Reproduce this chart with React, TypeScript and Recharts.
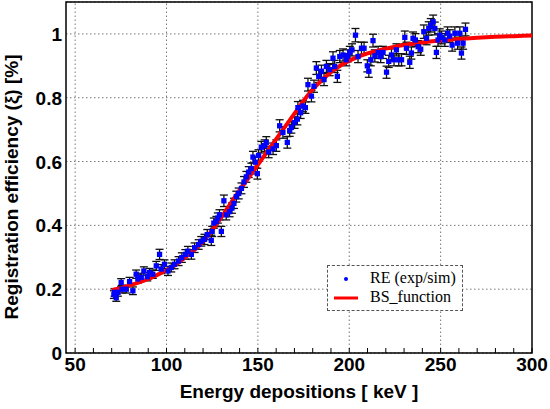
import React from "react";
import {
  ComposedChart,
  Scatter,
  Line,
  XAxis,
  YAxis,
  ZAxis,
  CartesianGrid,
  ReferenceLine,
  ReferenceArea,
  ErrorBar,
  Legend,
} from "recharts";

// measured registration efficiency (exp/sim) with errors
const reEnergy = [
  71.2, 71.6, 72.5, 73.4, 75.2, 75.6, 78.0, 79.8, 81.6, 83.4,
  84.3, 86.2, 87.6, 89.5, 90.7, 92.5, 94.4, 96.2, 97.1, 98.9,
  100.8, 102.6, 104.4, 106.6, 108.4, 110.3, 111.7, 113.6, 115.4, 117.6,
  119.0, 120.8, 122.3, 124.5, 125.0, 125.9, 127.3, 128.1, 129.0, 130.0,
  131.4, 132.7, 134.5, 135.8, 136.9, 138.2, 139.5, 141.0, 142.4, 143.7,
  145.0, 146.4, 147.3, 148.6, 149.7, 150.4, 151.9, 153.7, 154.6, 155.9,
  158.3, 160.1, 161.9, 163.7, 166.1, 167.4, 168.3, 170.1, 171.6, 171.9,
  173.4, 174.7, 176.0, 177.4, 179.3, 180.7, 182.0, 183.3, 184.8, 186.2,
  187.5, 189.3, 191.1, 192.0, 193.5, 194.8, 196.6, 198.4, 199.1, 200.3,
  201.5, 203.4, 204.8, 206.7, 208.1, 209.9, 210.7, 211.8, 213.0, 214.0,
  215.8, 217.2, 218.5, 220.4, 221.6, 223.1, 224.5, 225.8, 227.1, 228.6,
  230.4, 231.3, 233.1, 234.0, 234.9, 236.2, 237.7, 239.1, 240.8, 242.3,
  243.5, 244.6, 245.9, 246.8, 247.7, 248.6, 249.5, 250.5, 252.3, 253.8,
  255.0, 256.3, 257.8, 259.3, 260.5, 261.4, 262.3, 263.6,
];

const reValue = [
  0.183, 0.19, 0.173, 0.19, 0.221, 0.2, 0.2, 0.224, 0.195, 0.247,
  0.232, 0.237, 0.257, 0.239, 0.252, 0.247, 0.273, 0.309, 0.263, 0.278,
  0.257, 0.268, 0.278, 0.288, 0.299, 0.309, 0.319, 0.309, 0.33, 0.34,
  0.35, 0.356, 0.371, 0.353, 0.381, 0.407, 0.412, 0.423, 0.433, 0.381,
  0.477, 0.433, 0.443, 0.454, 0.469, 0.49, 0.5, 0.516, 0.536, 0.552,
  0.567, 0.578, 0.614, 0.598, 0.562, 0.619, 0.645, 0.65, 0.66, 0.63,
  0.64, 0.65, 0.712, 0.691, 0.66, 0.697, 0.707, 0.722, 0.733, 0.769,
  0.753, 0.774, 0.769, 0.841, 0.805, 0.836, 0.893, 0.867, 0.883, 0.857,
  0.898, 0.888, 0.924, 0.898, 0.867, 0.929, 0.934, 0.919, 0.931, 0.942,
  0.95, 0.996, 0.929, 0.955, 0.955, 0.9, 0.883, 0.919, 0.979, 0.931,
  0.942, 0.929, 0.942, 0.88, 0.914, 0.934, 0.919, 0.95, 0.919, 0.919,
  0.989, 0.955, 0.911, 0.94, 0.986, 0.981, 0.96, 0.952, 1.007, 0.986,
  1.017, 1.027, 1.038, 1.017, 0.942, 0.981, 0.996, 0.989, 0.981, 1.002,
  0.993, 0.965, 1.002, 0.971, 1.002, 0.94, 0.971, 1.014,
];

const reError = [
  0.012, 0.012, 0.011, 0.012, 0.012, 0.012, 0.012, 0.013, 0.012, 0.013,
  0.013, 0.013, 0.013, 0.013, 0.013, 0.013, 0.014, 0.016, 0.014, 0.014,
  0.014, 0.014, 0.014, 0.014, 0.015, 0.015, 0.015, 0.015, 0.015, 0.015,
  0.015, 0.016, 0.016, 0.016, 0.016, 0.016, 0.016, 0.016, 0.016, 0.016,
  0.018, 0.016, 0.016, 0.016, 0.016, 0.017, 0.017, 0.017, 0.017, 0.017,
  0.017, 0.017, 0.018, 0.017, 0.017, 0.018, 0.018, 0.018, 0.018, 0.018,
  0.018, 0.018, 0.019, 0.018, 0.018, 0.018, 0.018, 0.018, 0.018, 0.019,
  0.018, 0.018, 0.018, 0.02, 0.018, 0.019, 0.02, 0.019, 0.019, 0.019,
  0.019, 0.019, 0.02, 0.019, 0.019, 0.019, 0.019, 0.019, 0.019, 0.019,
  0.019, 0.021, 0.019, 0.019, 0.019, 0.019, 0.019, 0.019, 0.02, 0.019,
  0.019, 0.019, 0.019, 0.019, 0.019, 0.019, 0.019, 0.019, 0.019, 0.019,
  0.02, 0.019, 0.019, 0.019, 0.02, 0.02, 0.019, 0.019, 0.021, 0.02,
  0.021, 0.021, 0.021, 0.02, 0.019, 0.02, 0.02, 0.02, 0.02, 0.02,
  0.02, 0.019, 0.02, 0.019, 0.02, 0.019, 0.019, 0.02,
];

// fitted BS function
const bsEnergy = [
  70, 75, 80, 85, 90, 95, 100, 105, 110, 115, 120, 125, 130, 135, 140, 145,
  150, 155, 160, 165, 170, 175, 180, 185, 190, 195, 200, 205, 210, 215, 220,
  225, 230, 240, 250, 260, 270, 280, 290, 300,
];
const bsValue = [
  0.197, 0.204, 0.212, 0.221, 0.232, 0.245, 0.259, 0.277, 0.299, 0.322, 0.35,
  0.385, 0.425, 0.468, 0.51, 0.55, 0.59, 0.63, 0.67, 0.71, 0.75, 0.79, 0.826,
  0.855, 0.88, 0.9, 0.916, 0.929, 0.939, 0.947, 0.954, 0.96, 0.965, 0.973,
  0.979, 0.984, 0.988, 0.991, 0.993, 0.995,
];

const xMinorTicks = [
  50, 60, 70, 80, 90, 100, 110, 120, 130, 140, 150, 160, 170, 180, 190, 200,
  210, 220, 230, 240, 250, 260, 270, 280, 290, 300,
];
const xGridLines = [50, 100, 150, 200, 250];
const yTicks = [0, 0.2, 0.4, 0.6, 0.8, 1];

const reData = reEnergy.map((e, i) => ({ e, v: reValue[i], err: reError[i] }));
const bsData = bsEnergy.map((e, i) => ({ e, bs: bsValue[i] }));

const SANS = "'Liberation Sans', Arial, sans-serif";
const SERIF = "'Liberation Serif', 'Times New Roman', serif";
const GRID = { stroke: "#777", strokeDasharray: "1.5 2.5", strokeWidth: 1 };

function XTick({ x, y, payload }: any) {
  const v = payload.value;
  return (
    <g>
      <line x1={x} y1={y} x2={x} y2={y - 5} stroke="#000" strokeWidth={1} />
      {v % 50 === 0 && (
        <text
          x={x}
          y={y + 18}
          textAnchor="middle"
          fontFamily={SANS}
          fontWeight="bold"
          fontSize={19}
          fill="#000"
        >
          {v}
        </text>
      )}
    </g>
  );
}

function YTick({ x, y, payload }: any) {
  return (
    <text
      x={x}
      y={y + 7}
      textAnchor="end"
      fontFamily={SANS}
      fontWeight="bold"
      fontSize={19}
      fill="#000"
    >
      {payload.value}
    </text>
  );
}

function LegendBox() {
  return (
    <div
      style={{
        position: "relative",
        boxSizing: "border-box",
        width: 136,
        height: 46,
        border: "1px dashed #555",
        background: "#fff",
        fontFamily: SERIF,
        fontSize: 16,
        color: "#000",
      }}
    >
      <svg width={40} height={44} style={{ position: "absolute", left: 0, top: 0 }}>
        <circle cx={18} cy={13} r={2} fill="#0000ff" />
        <line x1={6} y1={32} x2={30} y2={32} stroke="#ff0000" strokeWidth={3} />
      </svg>
      <div style={{ position: "absolute", left: 42, top: 3, lineHeight: "18px" }}>
        RE (exp/sim)
      </div>
      <div style={{ position: "absolute", left: 42, top: 22, lineHeight: "18px" }}>
        BS_function
      </div>
    </div>
  );
}

export default function App() {
  return (
    <div style={{ position: "absolute", left: 0, top: 0, background: "#fff" }}>
      <ComposedChart
        width={550}
        height={409}
        data={bsData}
        margin={{ top: 2, right: 18, left: 0, bottom: 0 }}
      >
        <CartesianGrid vertical={false} {...GRID} />
        {xGridLines.map((g) => (
          <ReferenceLine key={g} x={g} {...GRID} />
        ))}
        <XAxis
          dataKey="e"
          type="number"
          domain={[45, 300]}
          ticks={xMinorTicks}
          interval={0}
          allowDataOverflow
          height={56}
          axisLine={false}
          tickLine={false}
          tickSize={0}
          tickMargin={0}
          tick={<XTick />}
          label={{
            value: "Energy depositions [ keV ]",
            position: "insideBottom",
            offset: 11,
            style: { fontFamily: SANS, fontWeight: "bold", fontSize: 19, fill: "#000" },
          }}
        />
        <YAxis
          type="number"
          domain={[0, 1.1]}
          ticks={yTicks}
          allowDataOverflow
          width={66}
          axisLine={false}
          tickLine={false}
          tickSize={0}
          tickMargin={4}
          tick={<YTick />}
          label={{
            content: () => (
              <text
                x={0}
                y={0}
                transform="translate(18, 187) rotate(-90)"
                textAnchor="middle"
                fontFamily={SANS}
                fontWeight="bold"
                fontSize={19}
                fill="#000"
              >
                Registration efficiency (ξ) [%]
              </text>
            ),
          }}
        />
        <ZAxis type="number" range={[28, 28]} />
        <Scatter
          data={reData}
          dataKey="v"
          fill="#0000ff"
          shape="square"
          isAnimationActive={false}
        >
          <ErrorBar dataKey="err" direction="y" width={4} stroke="#111" strokeWidth={1.3} />
        </Scatter>
        <Line
          dataKey="bs"
          type="monotone"
          stroke="#ff0000"
          strokeWidth={4}
          dot={false}
          isAnimationActive={false}
        />
        <ReferenceArea
          x1={45}
          x2={300}
          y1={0}
          y2={1.1}
          fill="none"
          stroke="#000"
          strokeWidth={1.5}
        />
        <Legend
          layout="vertical"
          align="center"
          verticalAlign="middle"
          wrapperStyle={{ left: 327, top: 265, width: 136, height: 46 }}
          content={() => <LegendBox />}
        />
      </ComposedChart>
    </div>
  );
}
